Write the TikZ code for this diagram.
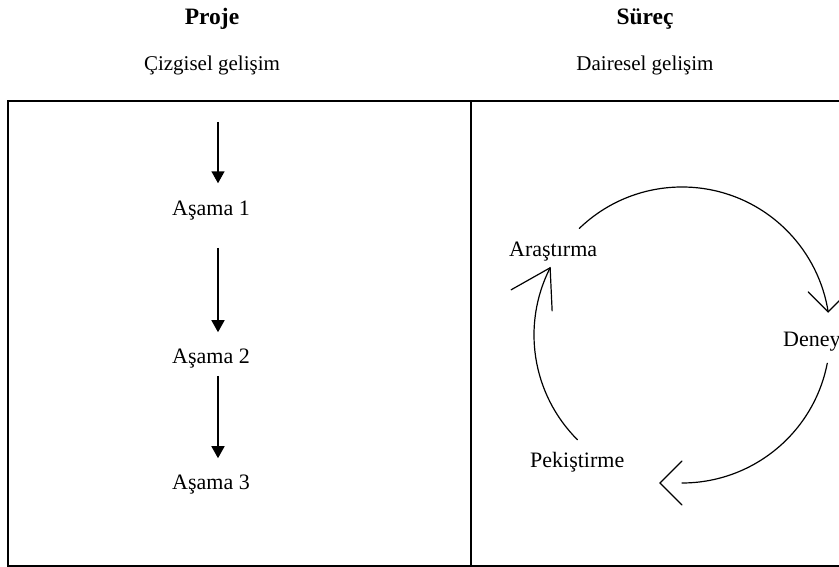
\documentclass[tikz,border=0pt]{standalone}
\usepackage{fontspec}
\setmainfont{Liberation Serif}
\usetikzlibrary{arrows.meta}

\tikzset{
  lbl/.style={inner sep=0pt, font=\fontsize{22}{26}\selectfont},
  headlbl/.style={inner sep=0pt, font=\fontsize{23.5}{28}\selectfont\bfseries},
  sublbl/.style={inner sep=0pt, font=\fontsize{21}{25}\selectfont},
  stagearrow/.style={line width=1.5pt, -{Triangle[length=12pt,width=13pt]}},
  cycline/.style={line width=1.2pt, line cap=round, line join=miter},
}

\begin{document}
\begin{tikzpicture}[x=1pt, y=1pt]
    \useasboundingbox (0,0) rectangle (839,567);

    % Headings
    \node[headlbl, anchor=base] (proje) at (212,542) {Proje};
    \node[headlbl, anchor=base] (surec) at (645,542) {Süreç};
    \node[sublbl, anchor=base] (cizgisel) at (212,496) {Çizgisel gelişim};
    \node[sublbl, anchor=base] (dairesel) at (645,496) {Dairesel gelişim};

    % Table frame
    \draw[line width=1.4pt] (8,1) rectangle (860,466);
    \draw[line width=1.4pt] (471,1) -- (471,466);

    % Linear development
    \node[lbl, anchor=base] (asama1) at (211,351) {Aşama 1};
    \node[lbl, anchor=base] (asama2) at (211,203) {Aşama 2};
    \node[lbl, anchor=base] (asama3) at (211,77) {Aşama 3};
    \coordinate (top) at (218,445);

    \draw[stagearrow, shorten >=18pt] (top) -- (top |- asama1.north);
    \draw[stagearrow, shorten <=27pt, shorten >=17pt] (top |- asama1.south) -- (top |- asama2.north);
    \draw[stagearrow, shorten <=7pt, shorten >=17pt] (top |- asama2.south) -- (top |- asama3.north);

    % Circular development
    \node[lbl, anchor=base west] (arastirma) at (509,310) {Araştırma};
    \node[lbl, anchor=base west] (deney) at (783,220) {Deney};
    \node[lbl, anchor=base west] (pekistirme) at (530,99) {Pekiştirme};
    \coordinate (c) at (682,232);

    \draw[cycline] (c) ++(134:148) arc[start angle=134, end angle=9, radius=148] coordinate (deneytip);
    \draw[cycline] ([shift={(-20,20)}]deneytip) -- (deneytip) -- ([shift={(20,20)}]deneytip);

    \draw[cycline] (c) ++(-11:148) arc[start angle=-11, end angle=-90, radius=148] coordinate (pekbase);
    \coordinate (pektip) at ([xshift=-22pt]pekbase);
    \draw[cycline] ([shift={(0,22)}]pekbase) -- (pektip) -- ([shift={(0,-22)}]pekbase);

    \draw[cycline] (c) ++(225:148) arc[start angle=225, end angle=153, radius=148] coordinate (arastip);
    \draw[cycline] ([shift={(-39,-22)}]arastip) -- (arastip) -- ([shift={(2,-43)}]arastip);
\end{tikzpicture}
\end{document}
